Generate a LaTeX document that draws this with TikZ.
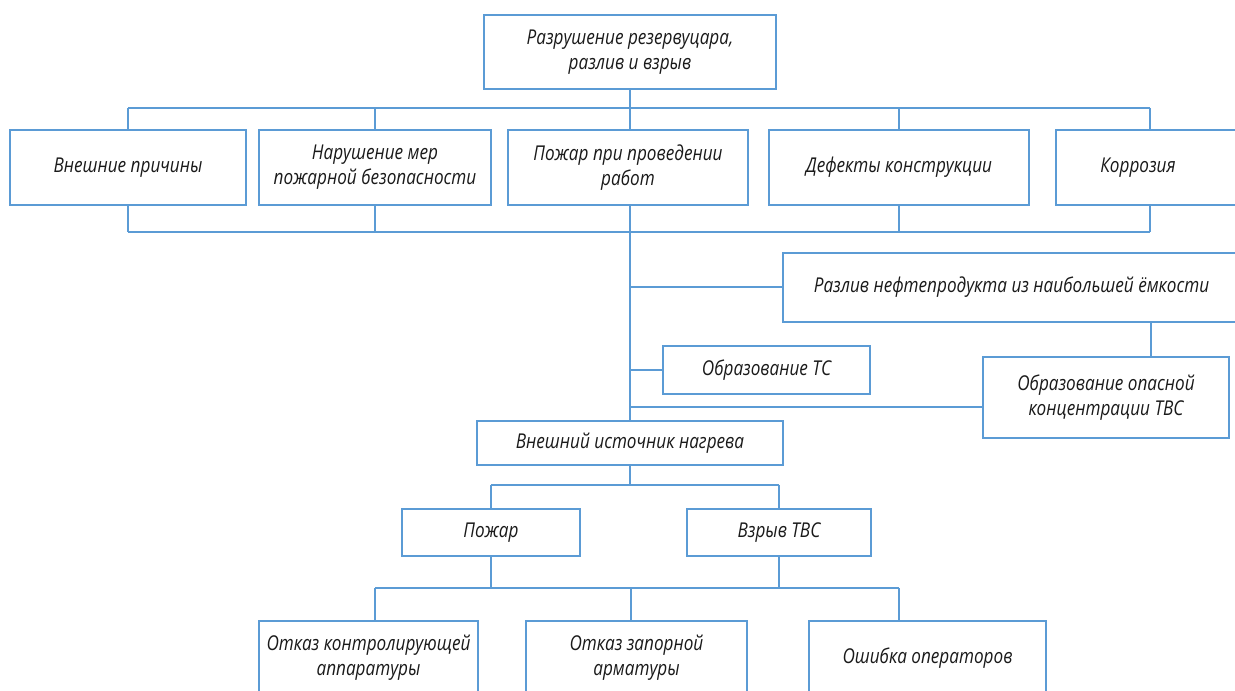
\documentclass[tikz,border=0pt]{standalone}
\usepackage{fontspec}
\newfontfamily\gostfont{Open Sans}[FakeStretch=0.84]
\definecolor{ln}{HTML}{5B9BD5}
\definecolor{tx}{HTML}{1A1A1A}
\begin{document}
\begin{tikzpicture}[x=1bp,y=-1bp,
  box/.style={draw=ln, line width=1.3bp, inner sep=0pt, align=center, fill=white,
    text=tx, font=\gostfont\itshape\fontsize{20.5}{25}\selectfont},
  wire/.style={draw=ln, line width=1.3bp}]
\useasboundingbox (0,0) rectangle (1235,691);
\clip (0,0) rectangle (1235,691);
\fill[white] (0,0) rectangle (1235,691);
% top
\node[box, minimum width=292bp, minimum height=74bp] (top) at (630,52) {Разрушение резервуцара,\\разлив и взрыв};
% row 1
\node[box, minimum width=236bp, minimum height=75bp] (b1) at (128,167.5) {Внешние причины};
\node[box, minimum width=232bp, minimum height=75bp] (b2) at (375,167.5) {Нарушение мер\\пожарной безопасности};
\node[box, minimum width=240bp, minimum height=75bp] (b3) at (628,167.5) {Пожар при проведении\\работ};
\node[box, minimum width=260bp, minimum height=75bp] (b4) at (899,167.5) {Дефекты конструкции};
\node[box, minimum width=188bp, minimum height=75bp] (b5) at (1150,167.5) {Коррозия\hspace*{24bp}};
% middle
\node[box, minimum width=457bp, minimum height=69bp] (r) at (1011.5,287.5) {Разлив нефтепродукта из наибольшей ёмкости};
\node[box, minimum width=207bp, minimum height=48bp] (ts) at (766.5,370) {Образование ТС};
\node[box, minimum width=246bp, minimum height=81bp] (tvs) at (1106,397.5) {Образование опасной\\концентрации ТВС};
\node[box, minimum width=306bp, minimum height=44bp] (vn) at (630,443) {Внешний источник нагрева};
% lower
\node[box, minimum width=178bp, minimum height=47bp] (fire) at (491,532.5) {Пожар};
\node[box, minimum width=184bp, minimum height=47bp] (expl) at (779,532.5) {Взрыв ТВС};
\node[box, minimum width=219bp, minimum height=74bp] (fa) at (368.5,658) {Отказ контролирующей\\аппаратуры};
\node[box, minimum width=221bp, minimum height=74bp] (fb) at (636.5,658) {Отказ запорной\\арматуры};
\node[box, minimum width=237bp, minimum height=74bp] (fc) at (927.5,658) {Ошибка операторов};
% bus coordinates
\coordinate (u1) at (128,108);
\coordinate (u2) at (1150,108);
\coordinate (d1) at (128,232);
\coordinate (d2) at (1150,232);
\coordinate (tk) at (630,232);
\coordinate (w1) at (630,287);
\coordinate (w3) at (630,407);
\coordinate (h1) at (491,485);
\coordinate (h2) at (779,485);
\coordinate (k1) at (375,588);
\coordinate (k2) at (899,588);
\coordinate (k3) at (631,588);
\coordinate (q) at (1151,322);
% top bus
\draw[wire] (top.south) -- (top.south |- u1);
\draw[wire] (u1) -- (u2);
\draw[wire] (u1) -- (u1 |- b1.north);
\draw[wire] (b2.north |- u1) -- (b2.north);
\draw[wire] (tk |- u1) -- (tk |- b3.north);
\draw[wire] (b4.north |- u1) -- (b4.north);
\draw[wire] (u2) -- (u2 |- b5.north);
% bottom bus
\draw[wire] (d1) -- (d2);
\draw[wire] (d1 |- b1.south) -- (d1);
\draw[wire] (b2.south) -- (b2.south |- d1);
\draw[wire] (tk |- b3.south) -- (tk);
\draw[wire] (b4.south) -- (b4.south |- d1);
\draw[wire] (d2 |- b5.south) -- (d2);
% trunk
\draw[wire] (tk) -- (tk |- vn.north);
\draw[wire] (w1) -- (w1 -| r.west);
\draw[wire] (tk |- ts.west) -- (ts.west);
\draw[wire] (w3) -- (w3 -| tvs.west);
\draw[wire] (q) -- (q |- tvs.north);
% lower tree
\draw[wire] (vn.south) -- (vn.south |- h1);
\draw[wire] (h1) -- (h2);
\draw[wire] (h1) -- (h1 |- fire.north);
\draw[wire] (h2) -- (h2 |- expl.north);
\draw[wire] (h1 |- fire.south) -- (h1 |- k1);
\draw[wire] (h2 |- expl.south) -- (h2 |- k1);
\draw[wire] (k1) -- (k2);
\draw[wire] (k1) -- (k1 |- fa.north);
\draw[wire] (k3) -- (k3 |- fb.north);
\draw[wire] (k2) -- (k2 |- fc.north);
\end{tikzpicture}
\end{document}
